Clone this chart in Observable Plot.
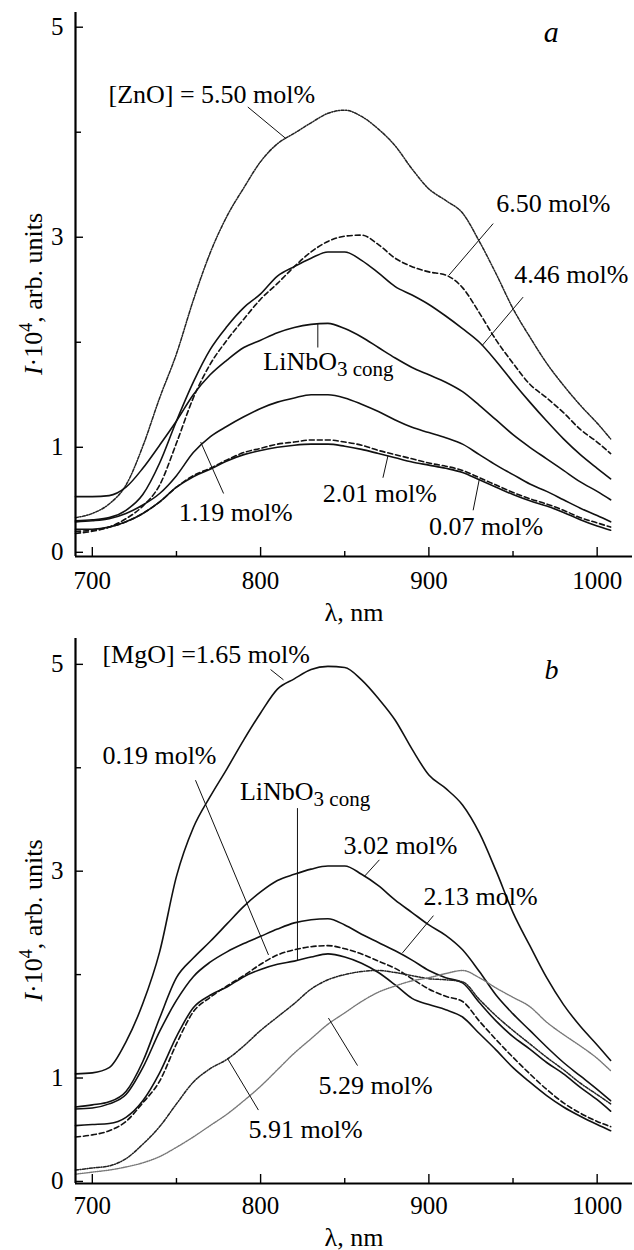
<!DOCTYPE html>
<html><head><meta charset="utf-8">
<script src="https://cdn.jsdelivr.net/npm/d3@7"></script>
<script src="https://cdn.jsdelivr.net/npm/@observablehq/plot@0.6"></script>
<style>
body{margin:0;background:#fff;}
svg{display:block;background:#fff;}
svg text{font-family:"Liberation Serif","Times New Roman",Times,serif !important;}
</style>
</head><body><div id="chart"></div>
<script>
// wavelength grid (nm)
const wavelength = [690,700,710,720,730,740,750,760,770,780,790,800,810,820,830,840,850,860,870,880,890,900,910,920,930,940,950,960,970,980,990,1000,1008];

// Panel a: LiNbO3:Zn
const aZn550 = [0.33,0.37,0.46,0.64,1.01,1.47,1.89,2.40,2.85,3.20,3.47,3.72,3.89,3.99,4.09,4.18,4.21,4.15,4.03,3.87,3.65,3.46,3.35,3.23,2.96,2.65,2.32,2.05,1.80,1.59,1.40,1.23,1.08];
const aZn650 = [0.18,0.20,0.24,0.32,0.44,0.64,1.04,1.47,1.79,2.02,2.22,2.41,2.56,2.72,2.86,2.96,3.01,3.02,2.93,2.80,2.72,2.67,2.64,2.52,2.28,2.02,1.80,1.60,1.47,1.33,1.17,1.05,0.94];
const aZn446 = [0.30,0.31,0.33,0.40,0.55,0.85,1.25,1.62,1.93,2.15,2.33,2.46,2.63,2.72,2.80,2.86,2.86,2.78,2.66,2.53,2.45,2.36,2.25,2.13,2.00,1.82,1.62,1.43,1.25,1.08,0.93,0.80,0.70];
const aCong  = [0.53,0.53,0.54,0.62,0.80,1.02,1.25,1.50,1.69,1.83,1.95,2.02,2.09,2.14,2.17,2.18,2.13,2.05,1.95,1.85,1.76,1.69,1.62,1.53,1.40,1.26,1.12,1.00,0.89,0.78,0.67,0.58,0.50];
const aZn119 = [0.29,0.30,0.32,0.37,0.45,0.56,0.73,0.95,1.10,1.20,1.29,1.37,1.43,1.47,1.50,1.50,1.47,1.41,1.34,1.26,1.19,1.14,1.09,1.03,0.93,0.83,0.74,0.65,0.58,0.50,0.42,0.35,0.29];
const aZn201 = [0.22,0.22,0.24,0.29,0.37,0.48,0.62,0.72,0.79,0.87,0.93,0.97,1.00,1.02,1.03,1.03,1.01,0.98,0.94,0.90,0.86,0.83,0.80,0.76,0.69,0.62,0.55,0.49,0.44,0.38,0.31,0.25,0.21];
const aZn007 = [0.20,0.21,0.24,0.29,0.37,0.48,0.62,0.73,0.80,0.88,0.95,0.99,1.03,1.05,1.07,1.07,1.05,1.02,0.97,0.93,0.89,0.85,0.82,0.78,0.71,0.64,0.57,0.51,0.46,0.40,0.33,0.28,0.24];

// Panel b: LiNbO3:Mg
const bMg165 = [1.04,1.05,1.10,1.35,1.72,2.22,2.95,3.42,3.72,3.99,4.27,4.53,4.76,4.86,4.95,4.98,4.97,4.85,4.67,4.46,4.18,3.93,3.80,3.64,3.37,3.00,2.60,2.28,1.97,1.71,1.50,1.32,1.17];
const bMg019 = [0.43,0.45,0.49,0.58,0.76,0.97,1.33,1.64,1.78,1.89,1.99,2.10,2.19,2.24,2.27,2.28,2.25,2.20,2.13,2.06,1.96,1.86,1.79,1.74,1.55,1.37,1.20,1.04,0.89,0.76,0.66,0.58,0.53];
const bCong  = [0.54,0.55,0.56,0.62,0.78,1.05,1.40,1.68,1.80,1.88,1.98,2.05,2.10,2.13,2.17,2.20,2.17,2.11,2.02,1.90,1.77,1.71,1.66,1.59,1.43,1.27,1.10,0.96,0.83,0.72,0.63,0.55,0.49];
const bMg302 = [0.72,0.74,0.77,0.87,1.16,1.58,1.97,2.16,2.32,2.49,2.66,2.80,2.91,2.97,3.02,3.05,3.05,2.97,2.86,2.72,2.60,2.48,2.38,2.24,2.03,1.80,1.62,1.46,1.30,1.15,1.02,0.89,0.78];
const bMg213 = [0.70,0.71,0.75,0.84,1.10,1.45,1.75,1.98,2.12,2.22,2.30,2.37,2.44,2.50,2.53,2.54,2.48,2.39,2.31,2.23,2.14,2.04,1.97,1.92,1.73,1.55,1.40,1.28,1.15,1.04,0.91,0.79,0.68];
const bMg529 = [0.07,0.09,0.11,0.14,0.18,0.24,0.33,0.43,0.54,0.65,0.78,0.92,1.08,1.24,1.38,1.52,1.63,1.74,1.83,1.89,1.94,1.97,2.01,2.04,1.97,1.87,1.78,1.69,1.54,1.42,1.31,1.19,1.07];
const bMg591 = [0.11,0.13,0.15,0.22,0.36,0.53,0.75,0.96,1.09,1.18,1.31,1.46,1.59,1.72,1.86,1.95,2.00,2.03,2.04,2.02,1.99,1.96,1.95,1.93,1.76,1.60,1.46,1.33,1.20,1.08,0.95,0.84,0.75];

// ticks
const xMajor = [700,800,900,1000];
const xMinor = [750,850,950];
const yMajorLabels = [0,1,3,5];
const yMinor = [2,4];

const FONT = "Liberation Serif, Times New Roman, serif";
const STY = {
  solid:   {stroke:"#111", strokeWidth:1.6},
  dashed:  {stroke:"#111", strokeWidth:1.6, strokeDasharray:"5,3"},
  dashdot: {stroke:"#222", strokeWidth:1.5, strokeDasharray:"3,1.5,1,1.5"},
  dotted:  {stroke:"#777", strokeWidth:1.4, strokeDasharray:"1,1.2"}
};

function panel(cfg){
  const W=634, H=625, mL=75, mR=2;
  const xDomain=[690,1021];
  const plotH = H - cfg.marginTop - cfg.marginBottom;
  const plotW = W - mL - mR;
  const marks = [];
  for (const s of cfg.series){
    const rows = wavelength.map((l,i)=>({l, v:s.values[i]}));
    marks.push(Plot.line(rows, {x:"l", y:"v", curve:"monotone-x", ...STY[s.style]}));
  }
  marks.push(Plot.ruleX([xDomain[0]], {strokeWidth:2.2, stroke:"#000"}));
  marks.push(Plot.ruleY([cfg.yDomain[0]], {strokeWidth:2.2, stroke:"#000"}));
  marks.push(Plot.tickX(xMajor, {x:d=>d, insetTop:plotH-9, strokeWidth:1.4}));
  marks.push(Plot.tickX(xMinor, {x:d=>d, insetTop:plotH-5, strokeWidth:1.4}));
  marks.push(Plot.tickY(yMajorLabels, {y:d=>d, insetRight:plotW-8, strokeWidth:1.4}));
  marks.push(Plot.tickY(yMinor, {y:d=>d, insetRight:plotW-6, strokeWidth:1.4}));
  marks.push(Plot.text(xMajor, {x:d=>d, text:d=>String(d), frameAnchor:"bottom", lineAnchor:"bottom", dy:cfg.xTickDy, fontSize:25, fontFamily:FONT, fill:"#000"}));
  marks.push(Plot.text(yMajorLabels, {y:d=>d, text:d=>String(d), frameAnchor:"left", textAnchor:"end", lineAnchor:"middle", dx:-12, fontSize:25, fontFamily:FONT, fill:"#000"}));
  marks.push(Plot.text(["λ, nm"], {frameAnchor:"bottom", lineAnchor:"bottom", dy:cfg.xLabelDy, fontSize:26, fontFamily:FONT, fill:"#000"}));
  marks.push(Plot.link(cfg.pointers, {x1:"x1", y1:"y1", x2:"x2", y2:"y2", stroke:"#111", strokeWidth:1}));
  marks.push(Plot.text(cfg.notes, {x:"x", y:"y", text:"text", textAnchor:"start", lineAnchor:"bottom", fontSize:26, fontFamily:FONT, fill:"#000"}));
  marks.push(Plot.text([cfg.letter], {x:"x", y:"y", text:"text", textAnchor:"middle", lineAnchor:"bottom", fontSize:cfg.letter.size, fontStyle:"italic", fontFamily:FONT, fill:"#000"}));

  const svg = Plot.plot({
    width:W, height:H, marginLeft:mL, marginRight:mR, marginTop:cfg.marginTop, marginBottom:cfg.marginBottom,
    x:{domain:xDomain, axis:null}, y:{domain:cfg.yDomain, axis:null},
    style:{background:"#fff", overflow:"visible", fontFamily:FONT},
    marks
  });
  const sx = svg.scale("x"), sy = svg.scale("y");
  const root = d3.select(svg);
  const c = cfg.cong;
  const t = root.append("text")
    .attr("x", sx.apply(c.x)).attr("y", sy.apply(c.y))
    .attr("text-anchor", "start")
    .attr("font-family", FONT).attr("font-size", 26).attr("fill", "#000");
  t.append("tspan").text("LiNbO");
  t.append("tspan").attr("dy", 6).attr("font-size", 21).text("3 cong");
  const yl = root.append("text")
    .attr("transform", `translate(42,${cfg.marginTop + plotH/2 + 10}) rotate(-90)`)
    .attr("text-anchor", "middle")
    .attr("font-family", FONT).attr("font-size", 26).attr("fill", "#000");
  yl.append("tspan").attr("font-style", "italic").text("I");
  yl.append("tspan").text("·10");
  yl.append("tspan").attr("dy", -10).attr("font-size", 18).text("4");
  yl.append("tspan").attr("dy", 10).text(", arb. units");
  return svg;
}

const panelA = panel({
  marginTop:12, marginBottom:69, yDomain:[-0.04,5.14], xTickDy:32, xLabelDy:64,
  series:[
    {values:aZn550, style:"dashdot"},
    {values:aZn650, style:"dashed"},
    {values:aZn446, style:"solid"},
    {values:aCong,  style:"solid"},
    {values:aZn119, style:"solid"},
    {values:aZn007, style:"dashed"},
    {values:aZn201, style:"solid"}
  ],
  notes:[
    {x:709.6, y:4.28, text:"[ZnO] = 5.50 mol%"},
    {x:940.0, y:3.24, text:"6.50 mol%"},
    {x:950.7, y:2.56, text:"4.46 mol%"},
    {x:751.3, y:0.30, text:"1.19 mol%"},
    {x:837.0, y:0.48, text:"2.01 mol%"},
    {x:900.1, y:0.16, text:"0.07 mol%"}
  ],
  pointers:[
    {x1:792.4, y1:4.24, x2:815.0, y2:3.94},
    {x1:938.2, y1:3.13, x2:912.0, y2:2.64},
    {x1:956.0, y1:2.43, x2:931.7, y2:1.97},
    {x1:834.0, y1:2.18, x2:834.0, y2:1.95},
    {x1:764.4, y1:1.05, x2:778.0, y2:0.56},
    {x1:875.7, y1:0.92, x2:872.7, y2:0.71},
    {x1:929.9, y1:0.69, x2:926.3, y2:0.40}
  ],
  cong:{x:801.9, y:1.73},
  letter:{x:972.7, y:4.86, text:"a", size:30}
});

const panelB = panel({
  marginTop:13, marginBottom:67, yDomain:[-0.02,5.25], xTickDy:30, xLabelDy:62,
  series:[
    {values:bMg165, style:"solid"},
    {values:bMg302, style:"solid"},
    {values:bMg213, style:"solid"},
    {values:bMg019, style:"dashed"},
    {values:bCong,  style:"solid"},
    {values:bMg591, style:"dashdot"},
    {values:bMg529, style:"dotted"}
  ],
  notes:[
    {x:706.0, y:5.01, text:"[MgO] =1.65 mol%"},
    {x:706.0, y:4.04, text:"0.19 mol%"},
    {x:849.2, y:3.17, text:"3.02 mol%"},
    {x:896.8, y:2.67, text:"2.13 mol%"},
    {x:834.4, y:0.85, text:"5.29 mol%"},
    {x:792.8, y:0.42, text:"5.91 mol%"}
  ],
  pointers:[
    {x1:805.9, y1:4.95, x2:813.6, y2:4.85},
    {x1:761.3, y1:3.88, x2:804.7, y2:2.19},
    {x1:821.9, y1:3.61, x2:821.9, y2:2.14},
    {x1:870.6, y1:3.11, x2:861.7, y2:2.95},
    {x1:902.7, y1:2.57, x2:884.3, y2:2.21},
    {x1:840.3, y1:1.58, x2:857.6, y2:1.12},
    {x1:780.3, y1:1.19, x2:798.7, y2:0.69}
  ],
  cong:{x:788.0, y:3.68},
  letter:{x:972.8, y:4.86, text:"b", size:28}
});

const root = document.getElementById("chart");
root.appendChild(panelA);
root.appendChild(panelB);
</script>
</body></html>
